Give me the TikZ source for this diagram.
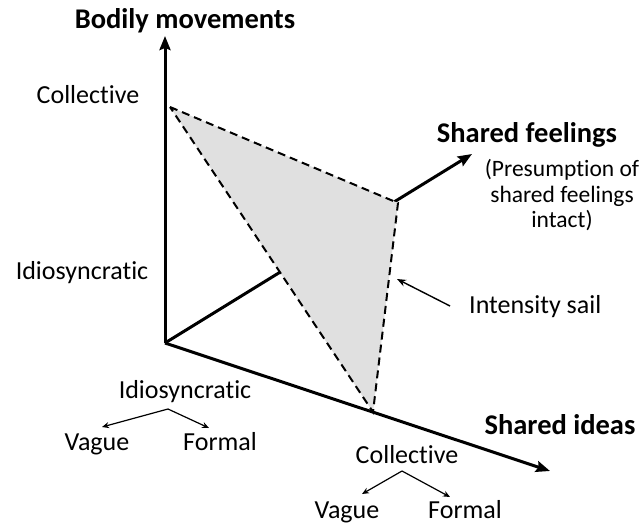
\documentclass[tikz,border=0pt]{standalone}
\usepackage{fontspec}
\setmainfont{Carlito}[Ligatures=NoCommon]
\usetikzlibrary{arrows.meta}
\begin{document}
\begin{tikzpicture}[x=1pt,y=-1pt,
  axis/.style={line width=3pt,-{Stealth[length=14pt,width=11pt,inset=2pt]}},
  small/.style={line width=1.2pt,-{Stealth[length=7pt,width=6pt]}},
  lbl/.style={font=\fontsize{26}{29}\selectfont,inner sep=0pt,anchor=base},
  plbl/.style={font=\fontsize{23.5}{26}\selectfont,inner sep=0pt,anchor=base},
  blbl/.style={font=\fontsize{28.5}{31}\selectfont\bfseries,inner sep=0pt,anchor=base},
  sail/.style={dash pattern=on 8pt off 5pt,line width=2pt}]
\useasboundingbox (0,0) rectangle (644,527);
\coordinate (O) at (165,343);
\coordinate (Vtop) at (165,36);
\coordinate (Itip) at (550,471);
\coordinate (Ftip) at (472,154);
\coordinate (S1) at (170,107);
\coordinate (S2) at (398,203);
\coordinate (S3) at (373,412);
% axes
\draw[axis] (O) -- (Vtop);
\draw[axis] (O) -- (Itip);
\draw[axis] (O) -- (Ftip);
% sail
\fill[gray!24] (S1) -- (S2) -- (S3) -- cycle;
\draw[sail] (S1) -- (S2) -- (S3) -- cycle;
% labels
\node[blbl] (bm) at (185,29) {Bodily movements};
\node[lbl] (vc) at (88,103) {Collective};
\node[lbl] (vi) at (82,279) {Idiosyncratic};
\node[blbl] (sf) at (527,142) {Shared feelings};
\node[plbl] (pres1) at (562,176) {(Presumption of};
\node[plbl] (pres2) at (562,202) {shared feelings};
\node[plbl] (pres3) at (562,227) {intact)};
\node[lbl,anchor=base west] (is) at (469,313) {Intensity sail};
\coordinate (isS) at (450,306);
\coordinate (isT) at (397,279);
\draw[line width=1.4pt,-{Stealth[length=9pt,width=7pt]}] (isS) -- (isT);
\node[lbl] (ii) at (185,398) {Idiosyncratic};
\node[lbl] (iv) at (97,450) {Vague};
\node[lbl] (if) at (220,450) {Formal};
\coordinate (ia) at (168,409);
\coordinate (iva) at (102,427);
\coordinate (ifa) at (209,428);
\draw[small] (ia) -- (iva);
\draw[small] (ia) -- (ifa);
\node[blbl] (si) at (560,434) {Shared ideas};
\node[lbl] (ic) at (407,463) {Collective};
\node[lbl] (cv) at (347,518) {Vague};
\node[lbl] (cf) at (465,518) {Formal};
\coordinate (ca) at (402,471);
\coordinate (cva) at (362,494);
\coordinate (cfa) at (450,497);
\draw[small] (ca) -- (cva);
\draw[small] (ca) -- (cfa);
\end{tikzpicture}
\end{document}
